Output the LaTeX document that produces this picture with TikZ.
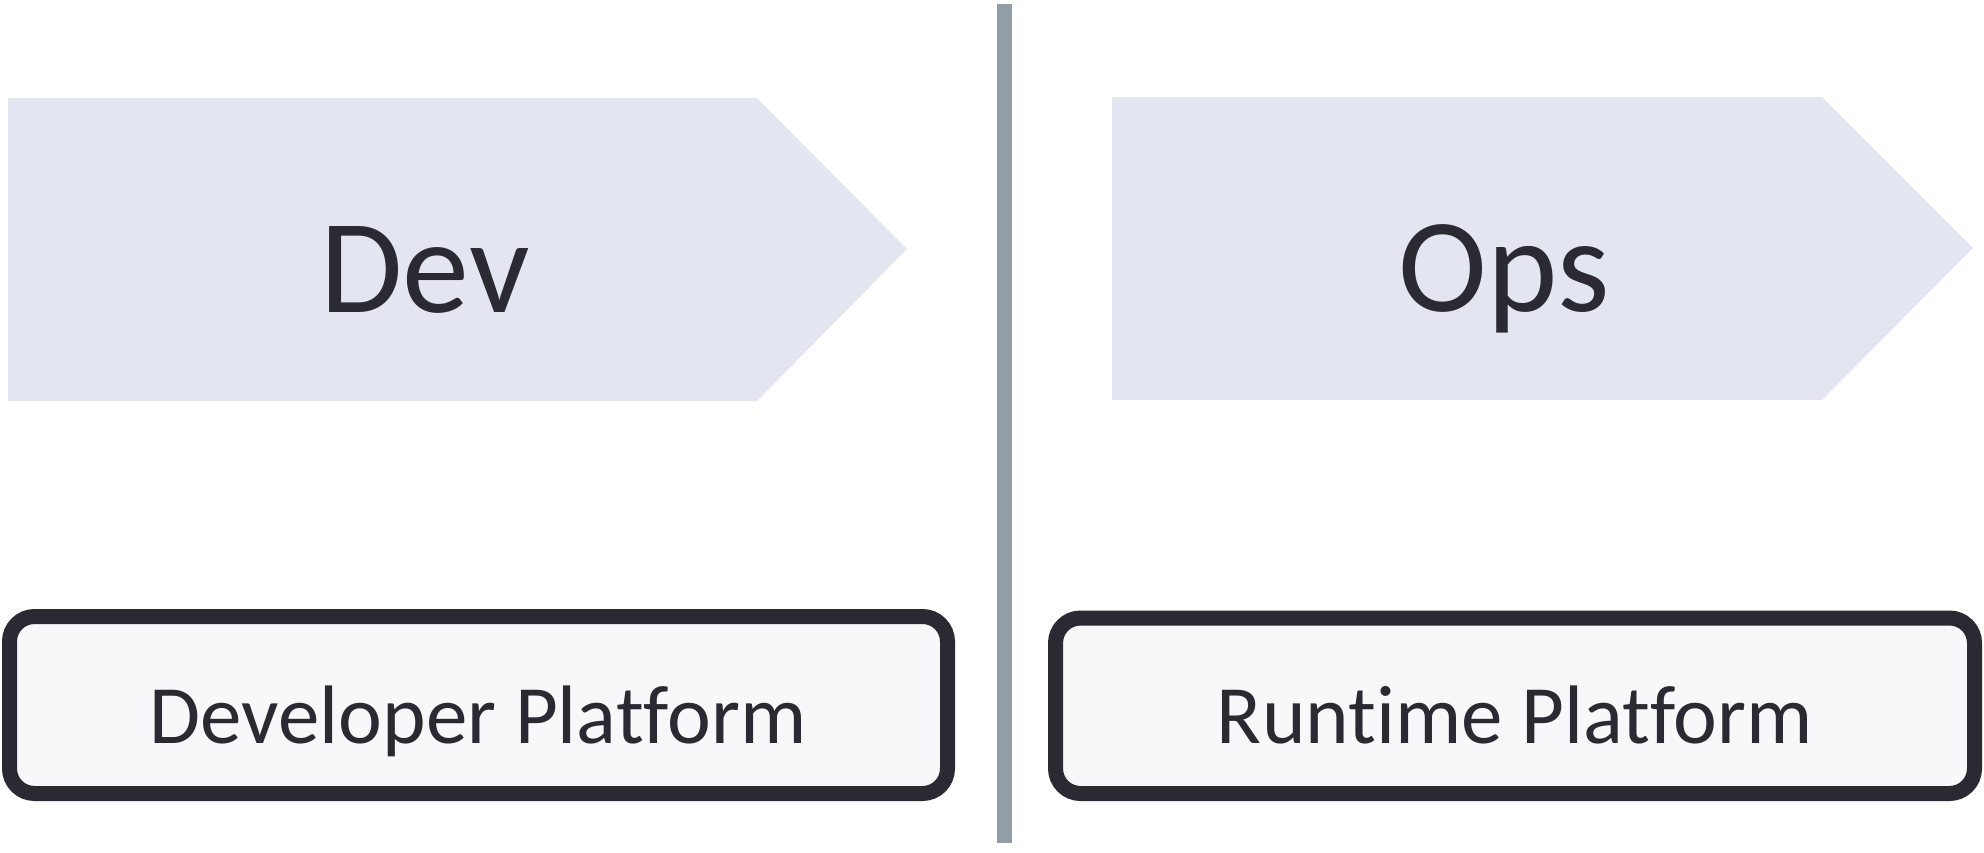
\documentclass[tikz,border=0pt]{standalone}
\usepackage{fontspec}
\setmainfont[Ligatures=NoCommon]{Carlito}
\definecolor{arrowfill}{HTML}{E3E6F0}
\definecolor{boxfill}{HTML}{F8F8FB}
\definecolor{ink}{HTML}{2B2A33}
\definecolor{divider}{HTML}{939DA7}
\tikzset{
  chevron/.style={fill=arrowfill, draw=none},
  platform/.style={draw=ink, fill=boxfill, line width=15pt, rounded corners=25pt, rectangle, inner sep=0pt},
  bigtext/.style={anchor=base, inner sep=0pt, text=ink, font=\fontsize{134}{140}\selectfont},
  boxtext/.style={anchor=base, inner sep=0pt, text=ink, font=\fontsize{83}{90}\selectfont},
  divline/.style={draw=divider, line width=15pt}
}
\begin{document}
\begin{tikzpicture}[x=1pt,y=-1pt]
\useasboundingbox (0,0) rectangle (1984,852);
% chevrons
\path[chevron] (8,98) -- (757,98) -- (907,249) -- (757,401) -- (8,401) -- cycle;
\path[chevron] (1112,97) -- (1822,97) -- (1973,248) -- (1822,400) -- (1112,400) -- cycle;
\node[bigtext] (dev) at (425,312) {Dev};
\node[bigtext] (ops) at (1504,311) {Ops};
% divider
\coordinate (dtop) at (1004.5,4);
\coordinate (dbot) at (1004.5,843);
\draw[divline] (dtop) -- (dbot);
% platform boxes
\node[platform, minimum width=938pt, minimum height=177pt] (devbox) at (478.5,705) {};
\node[platform, minimum width=919pt, minimum height=175.5pt] (opsbox) at (1515,705.75) {};
\node[boxtext] (devtxt) at (478,743) {Developer Platform};
\node[boxtext] (opstxt) at (1515,743) {Runtime Platform};
\end{tikzpicture}
\end{document}
